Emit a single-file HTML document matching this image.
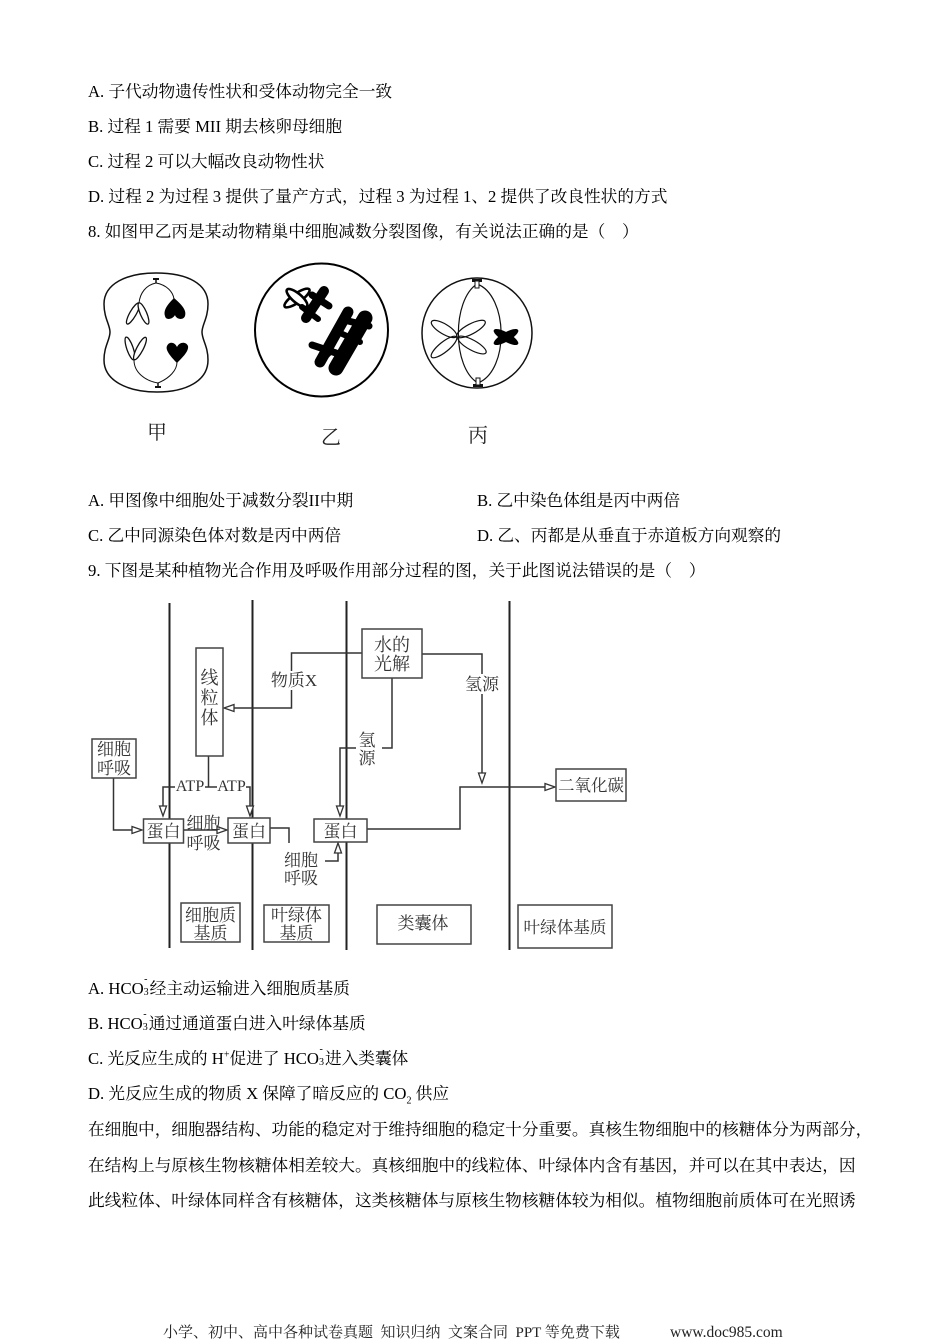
<!DOCTYPE html>
<html><head><meta charset="utf-8">
<style>
body{margin:0;background:#fff;}
#p{position:relative;width:950px;height:1344px;overflow:hidden;background:#fff;font-family:"Liberation Serif","Noto Serif CJK SC",serif;color:#000;}
.t{position:absolute;font-size:16.7px;line-height:20px;white-space:pre;}
.t sub,.t sup{font-size:10px;line-height:0;}
.ion{display:inline-block;position:relative;width:6px;height:10px;vertical-align:baseline;}
.ion .sp{position:absolute;left:0.5px;top:-9px;font-size:10px;line-height:10px;}
.ion .sb{position:absolute;left:0;top:4px;font-size:10px;line-height:10px;}
svg{position:absolute;left:0;top:0;}
svg text{font-family:"Liberation Serif","Noto Serif CJK SC",serif;}
</style></head><body><div id="p">
<svg width="950" height="1344" viewBox="0 0 950 1344">
<!-- ===== Cell 甲 ===== -->
<g stroke="#111" fill="none">
<path d="M156,273 C188,273 208,284 208,304 C208,318 202,325 202,332 C202,340 208,346 208,360 C208,381 186,392 157,392 C128,392 104,381 104,360 C104,346 110,340 110,332 C110,325 104,318 104,304 C104,284 126,273 156,273Z" stroke-width="1.5"/>
<line x1="153" y1="279" x2="159" y2="279" stroke-width="2"/>
<line x1="156" y1="279" x2="156" y2="283" stroke-width="1.5"/>
<line x1="155" y1="387" x2="161" y2="387" stroke-width="2"/>
<line x1="158" y1="383" x2="158" y2="387" stroke-width="1.5"/>
<path d="M156,283 C146,285 140,293 139,303" stroke-width="1"/>
<path d="M156,283 C167,285 173,292 174,299" stroke-width="1"/>
<path d="M158,383 C146,381 134,373 134,360" stroke-width="1"/>
<path d="M158,383 C170,378 177,370 177,362" stroke-width="1"/>
<ellipse cx="133" cy="313.5" rx="12" ry="3.2" transform="rotate(119.7 133 313.5)" fill="#fff" stroke-width="1.3"/>
<ellipse cx="143.5" cy="313.5" rx="11.5" ry="3.2" transform="rotate(66.8 143.5 313.5)" fill="#fff" stroke-width="1.3"/>
<ellipse cx="130" cy="348.5" rx="12" ry="3.2" transform="rotate(71 130 348.5)" fill="#fff" stroke-width="1.3"/>
<ellipse cx="140" cy="348.5" rx="12.5" ry="3.2" transform="rotate(117.5 140 348.5)" fill="#fff" stroke-width="1.3"/>
</g>
<path d="M174,298 C181,304 187,310 185,316 C183,321 176,319 175,315 C173,319 166,321 165,316 C163,310 168,304 174,298 Z" fill="#000"/>
<path d="M177,363 C171,357 165,350 167,346 C169,341 175,342 177,347 C179,342 186,341 188,346 C189,351 183,357 177,363 Z" fill="#000"/>

<!-- ===== Cell 乙 ===== -->
<circle cx="321.5" cy="330" r="66.5" fill="none" stroke="#000" stroke-width="2"/>
<g fill="#fff" stroke="#000" stroke-width="2.6">
<ellipse cx="297" cy="298" rx="15" ry="4.5" transform="rotate(-35 297 298)"/>
<ellipse cx="297" cy="298" rx="13" ry="4.5" transform="rotate(40 297 298)"/>
</g>
<g stroke="#000" stroke-linecap="round" fill="none">
<line x1="324" y1="291" x2="306" y2="318" stroke-width="10"/>
<line x1="312" y1="295" x2="329" y2="306" stroke-width="7"/>
<line x1="302" y1="307" x2="318" y2="319" stroke-width="6"/>
<line x1="348" y1="312" x2="320" y2="362" stroke-width="11"/>
<line x1="365" y1="318" x2="336" y2="368" stroke-width="15"/>
<line x1="312" y1="345" x2="336" y2="353" stroke-width="7"/>
<line x1="344" y1="320" x2="369" y2="326" stroke-width="7"/>
<line x1="338" y1="332" x2="360" y2="342" stroke-width="6"/>
<line x1="320" y1="362" x2="330" y2="352" stroke-width="6"/>
</g>

<!-- ===== Cell 丙 ===== -->
<circle cx="477" cy="333" r="55" fill="none" stroke="#111" stroke-width="1.5"/>
<g stroke="#111" fill="none" stroke-width="1.2">
<path d="M477,284 C452,300 452,368 478,383"/>
<path d="M477,284 C508,295 510,370 478,383"/>
</g>
<rect x="472" y="279" width="10" height="3" fill="#111"/>
<rect x="475" y="281" width="4" height="7" fill="#fff" stroke="#111" stroke-width="1"/>
<rect x="473" y="384" width="10" height="3" fill="#111"/>
<rect x="476" y="378" width="4" height="7" fill="#fff" stroke="#111" stroke-width="1"/>
<g fill="none" stroke="#111" stroke-width="1.2">
<ellipse cx="444" cy="329" rx="14.5" ry="5" transform="rotate(31 444 329)"/>
<ellipse cx="471" cy="329" rx="16" ry="5" transform="rotate(-28 471 329)"/>
<ellipse cx="444" cy="347" rx="16" ry="5" transform="rotate(-39 444 347)"/>
<ellipse cx="472" cy="345" rx="16" ry="5" transform="rotate(29 472 345)"/>
</g>
<ellipse cx="506" cy="337" rx="14" ry="4.5" transform="rotate(30 506 337)" fill="#000"/>
<ellipse cx="506" cy="337" rx="14" ry="4.5" transform="rotate(-30 506 337)" fill="#000"/>

<g font-family="'Noto Sans CJK SC',sans-serif" font-size="20" fill="#222" text-anchor="middle">
<text x="157" y="439">甲</text>
<text x="331" y="444">乙</text>
<text x="478" y="442">丙</text>
</g>

<!-- ===== Diagram ===== -->
<g stroke="#222" stroke-width="2">
<line x1="169.5" y1="603" x2="169.5" y2="948"/>
<line x1="252.5" y1="600" x2="252.5" y2="950"/>
<line x1="346.5" y1="601" x2="346.5" y2="950"/>
<line x1="509.5" y1="601" x2="509.5" y2="950"/>
</g>
<g fill="none" stroke="#333" stroke-width="1.5">
<polyline points="208.5,756 208.5,787"/>
<polyline points="175,787 163,787 163,808"/>
<polyline points="205,787 217,787"/>
<polyline points="246,787 250,787 250,808"/>
<polyline points="113.5,778 113.5,830 134,830"/>
<polyline points="183.5,830 219,830"/>
<polyline points="270,828 289,828 289,843"/>
<polyline points="325,861 338,861 338,851"/>
<polyline points="392,678 392,748 382,748"/>
<polyline points="356,748 340,748 340,808"/>
<polyline points="362,653 291.5,653 291.5,708 232,708"/>
<polyline points="422,654 482,654 482,775"/>
<polyline points="367,829 460,829 460,787 546,787"/>
</g>
<g fill="#fff" stroke="#333" stroke-width="1.3" stroke-linejoin="miter">
<polygon points="159.5,806 163,816 166.5,806"/>
<polygon points="246.5,806 250,816 253.5,806"/>
<polygon points="132,826.5 142,830 132,833.5"/>
<polygon points="217,826.5 227,830 217,833.5"/>
<polygon points="334.5,853 338,843 341.5,853"/>
<polygon points="336.5,806 340,816 343.5,806"/>
<polygon points="234,704.5 224,708 234,711.5"/>
<polygon points="478.5,773 482,783 485.5,773"/>
<polygon points="545,783.5 555,787 545,790.5"/>
</g>
<g fill="#fff" stroke="#444" stroke-width="1.5">
<rect x="196" y="648" width="27" height="108"/>
<rect x="92" y="739" width="44" height="39"/>
<rect x="143.5" y="819" width="40" height="24"/>
<rect x="228" y="818" width="42" height="25"/>
<rect x="314" y="819" width="53" height="23"/>
<rect x="362" y="629" width="60" height="49"/>
<rect x="556" y="769" width="70" height="32"/>
<rect x="181" y="903" width="59" height="39"/>
<rect x="264" y="905" width="65" height="37"/>
<rect x="377" y="905" width="94" height="39"/>
<rect x="518" y="905" width="94" height="43"/>
</g>
<rect x="272" y="671" width="44" height="19" fill="#fff"/>
<rect x="464" y="674" width="37" height="20" fill="#fff"/>
<g font-size="17" fill="#333" text-anchor="middle">
<text x="209.5" y="684" font-size="18">线</text>
<text x="209.5" y="704" font-size="18">粒</text>
<text x="209.5" y="724" font-size="18">体</text>
<text x="114" y="755">细胞</text>
<text x="114" y="774">呼吸</text>
<text x="163.5" y="837">蛋白</text>
<text x="249" y="837">蛋白</text>
<text x="340.5" y="837">蛋白</text>
<text x="203.5" y="829">细胞</text>
<text x="203.5" y="849">呼吸</text>
<text x="301" y="866">细胞</text>
<text x="301" y="884">呼吸</text>
<text x="367" y="746">氢</text>
<text x="367" y="764">源</text>
<text x="392" y="651" font-size="18">水的</text>
<text x="392" y="670" font-size="18">光解</text>
<text x="294" y="686">物质X</text>
<text x="482" y="690">氢源</text>
<text x="591" y="791" font-size="16.5">二氧化碳</text>
<text x="210.5" y="921">细胞质</text>
<text x="210.5" y="939">基质</text>
<text x="296.5" y="921">叶绿体</text>
<text x="296.5" y="939">基质</text>
<text x="423" y="929">类囊体</text>
<text x="565" y="933" font-size="16.6">叶绿体基质</text>
<text x="190" y="791" font-size="16">ATP</text>
<text x="231.5" y="791" font-size="16">ATP</text>
</g>
</svg>

<div class="t" style="left:88px;top:82px">A. 子代动物遗传性状和受体动物完全一致</div>
<div class="t" style="left:88px;top:117px">B. 过程 1 需要 MII 期去核卵母细胞</div>
<div class="t" style="left:88px;top:152px">C. 过程 2 可以大幅改良动物性状</div>
<div class="t" style="left:88px;top:187px">D. 过程 2 为过程 3 提供了量产方式，过程 3 为过程 1、2 提供了改良性状的方式</div>
<div class="t" style="left:88px;top:222px">8. 如图甲乙丙是某动物精巢中细胞减数分裂图像，有关说法正确的是（    ）</div>

<div class="t" style="left:88px;top:491px">A. 甲图像中细胞处于减数分裂II中期</div>
<div class="t" style="left:477px;top:491px">B. 乙中染色体组是丙中两倍</div>
<div class="t" style="left:88px;top:526px">C. 乙中同源染色体对数是丙中两倍</div>
<div class="t" style="left:477px;top:526px">D. 乙、丙都是从垂直于赤道板方向观察的</div>
<div class="t" style="left:88px;top:561px">9. 下图是某种植物光合作用及呼吸作用部分过程的图，关于此图说法错误的是（    ）</div>

<div class="t" style="left:88px;top:979px">A. HCO<span class="ion"><span class="sp">-</span><span class="sb">3</span></span>经主动运输进入细胞质基质</div>
<div class="t" style="left:88px;top:1014px">B. HCO<span class="ion"><span class="sp">-</span><span class="sb">3</span></span>通过通道蛋白进入叶绿体基质</div>
<div class="t" style="left:88px;top:1049px">C. 光反应生成的 H<sup>+</sup>促进了 HCO<span class="ion"><span class="sp">-</span><span class="sb">3</span></span>进入类囊体</div>
<div class="t" style="left:88px;top:1084px">D. 光反应生成的物质 X 保障了暗反应的 CO<sub>2</sub> 供应</div>

<div class="t" style="left:88px;top:1120px">在细胞中，细胞器结构、功能的稳定对于维持细胞的稳定十分重要。真核生物细胞中的核糖体分为两部分，</div>
<div class="t" style="left:88px;top:1156px">在结构上与原核生物核糖体相差较大。真核细胞中的线粒体、叶绿体内含有基因，并可以在其中表达，因</div>
<div class="t" style="left:88px;top:1191px">此线粒体、叶绿体同样含有核糖体，这类核糖体与原核生物核糖体较为相似。植物细胞前质体可在光照诱</div>

<div class="t" style="left:163px;top:1323px;font-size:15px;color:#222">小学、初中、高中各种试卷真题  知识归纳  文案合同  PPT 等免费下载</div>
<div class="t" style="left:670px;top:1323px;font-size:15.5px;color:#222">www.doc985.com</div>
</div></body></html>
